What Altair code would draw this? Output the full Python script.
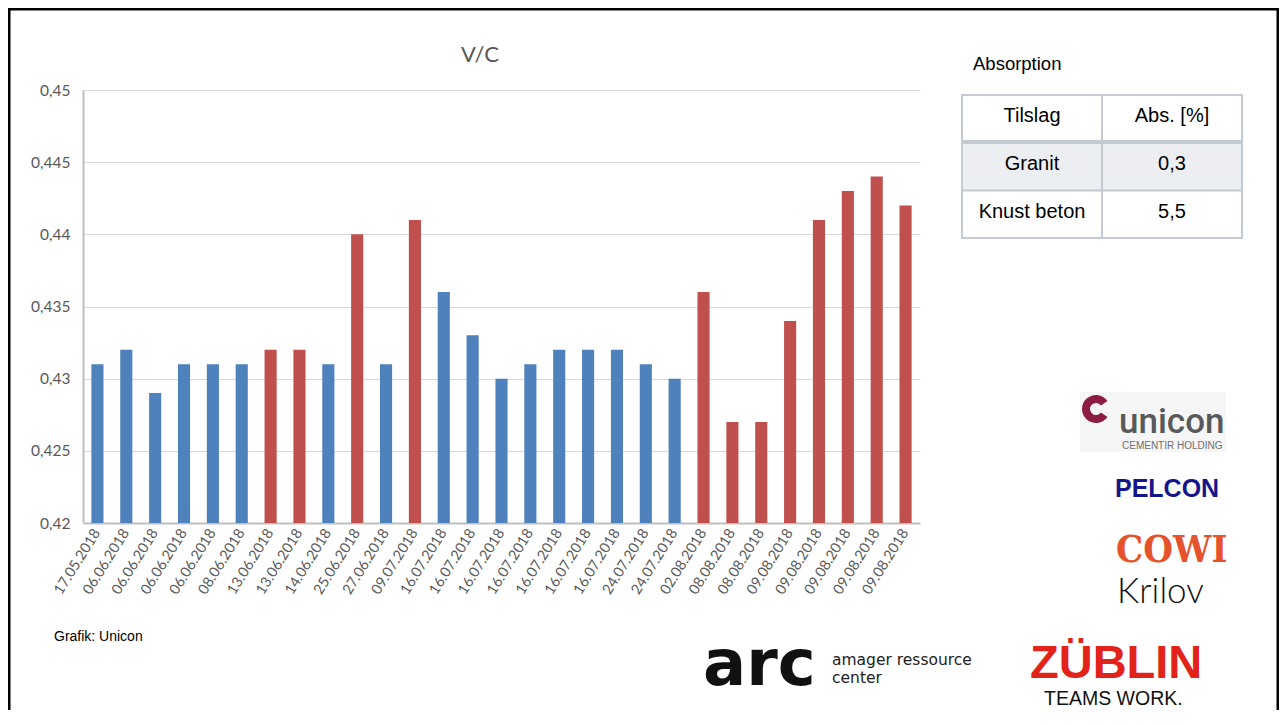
import altair as alt
import pandas as pd

# ---------------- data ----------------
dates = [
    "17.05.2018", "06.06.2018", "06.06.2018", "06.06.2018", "06.06.2018",
    "08.06.2018", "13.06.2018", "13.06.2018", "14.06.2018", "25.06.2018",
    "27.06.2018", "09.07.2018", "16.07.2018", "16.07.2018", "16.07.2018",
    "16.07.2018", "16.07.2018", "16.07.2018", "16.07.2018", "24.07.2018",
    "24.07.2018", "02.08.2018", "08.08.2018", "08.08.2018", "09.08.2018",
    "09.08.2018", "09.08.2018", "09.08.2018", "09.08.2018",
]
vc = [
    0.431, 0.432, 0.429, 0.431, 0.431,
    0.431, 0.432, 0.432, 0.431, 0.440,
    0.431, 0.441, 0.436, 0.433, 0.430,
    0.431, 0.432, 0.432, 0.432, 0.431,
    0.430, 0.436, 0.427, 0.427, 0.434,
    0.441, 0.443, 0.444, 0.442,
]
tilslag = [
    "Granit", "Granit", "Granit", "Granit", "Granit",
    "Granit", "Knust beton", "Knust beton", "Granit", "Knust beton",
    "Granit", "Knust beton", "Granit", "Granit", "Granit",
    "Granit", "Granit", "Granit", "Granit", "Granit",
    "Granit", "Knust beton", "Knust beton", "Knust beton", "Knust beton",
    "Knust beton", "Knust beton", "Knust beton", "Knust beton",
]
y_ticks = [0.42, 0.425, 0.43, 0.435, 0.44, 0.445, 0.45]

table_title = "Absorption"
table_header = ["Tilslag", "Abs. [%]"]
table_tilslag = ["Granit", "Knust beton"]
table_abs = ["0,3", "5,5"]

df = pd.DataFrame({
    "key": [f"{d}|{i}" for i, d in enumerate(dates)],
    "vc": vc,
    "tilslag": tilslag,
})

# ---------------- layout helpers ----------------
PAD_L, PAD_T = 75, 82
OX, OY = 8 + PAD_L, 8 + PAD_T
W, H = 837, 433
TOT_W, TOT_H = 1271, 702
one = alt.Data(values=[{"k": 0}])


def X(p):
    return p - OX


def Y(p):
    return p - OY


def txt(s, x, y, size, color="#000000", font="Liberation Sans", weight="normal",
        align="left", baseline="alphabetic"):
    return alt.Chart(one).mark_text(
        text=s, fontSize=size, color=color, font=font, fontWeight=weight,
        align=align, baseline=baseline,
    ).encode(x=alt.value(X(x)), y=alt.value(Y(y)))


def box(x1, x2, y1, y2, color):
    return alt.Chart(one).mark_rect(color=color).encode(
        x=alt.value(X(x1)), x2=alt.value(X(x2)),
        y=alt.value(Y(y1)), y2=alt.value(Y(y2)),
    )


# ---------------- main bar chart ----------------
bars = alt.Chart(df).mark_bar().encode(
    x=alt.X(
        "key:N", sort=None, title=None,
        scale=alt.Scale(paddingInner=0.58, paddingOuter=0.29),
        axis=alt.Axis(
            labelExpr="split(datum.value, '|')[0]", labelAngle=-58,
            labelFont="Lato", labelFontSize=14.5, labelColor="#595959",
            labelPadding=7, ticks=False, domainColor="#bfbfbf", domainWidth=2,
            grid=False,
        ),
    ),
    y=alt.Y(
        "vc:Q", title=None,
        scale=alt.Scale(domain=[0.42, 0.45], zero=False, nice=False),
        axis=alt.Axis(
            values=y_ticks,
            labelExpr="replace(format(datum.value, '.3~f'), '.', ',')",
            labelFont="Lato", labelFontSize=15.5, labelColor="#595959",
            labelPadding=13, ticks=False, domainColor="#bfbfbf", domainWidth=2,
            grid=True, gridColor="#d9d9d9", gridWidth=1,
        ),
    ),
    y2=alt.datum(0.42),
    color=alt.Color(
        "tilslag:N", legend=None,
        scale=alt.Scale(domain=["Granit", "Knust beton"], range=["#4F81BD", "#C0504D"]),
    ),
)

layers = [bars]

# chart title
layers.append(txt("V/C", 480, 62, 22, "#595959", font="Lato", align="center"))
layers.append(txt("Grafik: Unicon", 54, 641, 14))

# frame (slide border)
layers += [
    box(8, 10.5, 8, TOT_H + 8, "#000000"),
    box(8, TOT_W + 8, 8, 10.5, "#000000"),
    box(TOT_W + 5.5, TOT_W + 8, 8, TOT_H + 8, "#000000"),
]

# absorption table
layers.append(txt(table_title, 973, 70, 18.5))
line_c = "#c3cad2"
layers += [
    box(962, 1242, 143, 190, "#eceef1"),
    box(961, 963, 94, 239, line_c),
    box(1241, 1243, 94, 239, line_c),
    box(961, 1243, 94, 96, line_c),
    box(961, 1243, 237, 239, line_c),
    box(1101, 1103, 94, 239, line_c),
    box(961, 1243, 140, 144, line_c),
    box(961, 1243, 189.5, 191.5, line_c),
]
col_x = [1032, 1172]
row_y = [116, 164, 212]
for j, h in enumerate(table_header):
    layers.append(txt(h, col_x[j], row_y[0], 20, align="center", baseline="middle"))
for i, (t, a) in enumerate(zip(table_tilslag, table_abs)):
    layers.append(txt(t, col_x[0], row_y[i + 1], 20, align="center", baseline="middle"))
    layers.append(txt(a, col_x[1], row_y[i + 1], 20, align="center", baseline="middle"))

# logos (as text)
layers.append(box(1080, 1226, 392, 452, "#f6f6f6"))
layers.append(
    alt.Chart(one).mark_arc(innerRadius=6, outerRadius=14, theta=2.18, theta2=7.24,
                            color="#8C1D40").encode(x=alt.value(X(1096)), y=alt.value(Y(409)))
)
layers.append(txt("unicon", 1119, 433, 35, "#58595B", font="Roboto", weight=500))
layers.append(txt("CEMENTIR HOLDING", 1122, 449, 10, "#6D6E71"))
layers.append(txt("PELCON", 1115, 497, 25, "#16168C", weight="bold"))
layers.append(txt("COWI", 1116, 562, 38, "#E5532D",
                  font="DejaVu Serif Condensed, Liberation Serif", weight="bold"))
layers.append(txt("Krilov", 1117, 603, 35, "#111111", font="Lato", weight=300))
layers.append(txt("arc", 703, 685, 64, "#111111", font="DejaVu Sans", weight="bold"))
layers.append(txt("amager ressource", 832, 665, 15.5, "#222222", font="DejaVu Sans"))
layers.append(txt("center", 832, 683, 15.5, "#222222", font="DejaVu Sans"))
layers.append(txt("ZÜBLIN", 1030, 678, 47, "#E2231A", weight="bold"))
layers.append(txt("TEAMS WORK.", 1044, 705, 19.5, "#111111"))

chart = alt.layer(*layers).properties(
    width=W, height=H,
    padding={"left": PAD_L, "top": PAD_T, "right": TOT_W - PAD_L - W, "bottom": TOT_H - PAD_T - H},
    autosize=alt.AutoSizeParams(type="none"),
).configure_view(strokeWidth=0)

chart.save("out.html", embed_options={"renderer": "svg", "actions": False})
